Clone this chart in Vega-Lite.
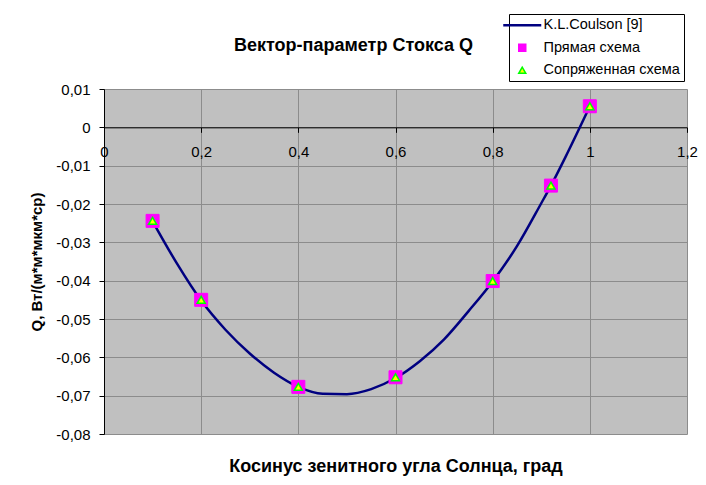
{
  "$schema": "https://vega.github.io/schema/vega-lite/v6.json",
  "width": 583,
  "height": 345,
  "autosize": {"type": "none"},
  "padding": {"left": 104, "top": 89, "right": 19, "bottom": 51},
  "background": "#ffffff",
  "title": {
    "text": "Вектор-параметр Стокса Q",
    "font": "Liberation Sans",
    "fontSize": 18,
    "fontWeight": "bold",
    "color": "#000000",
    "anchor": "middle",
    "frame": "group",
    "dx": -42,
    "offset": -41
  },
  "config": {
    "view": {"fill": "#c0c0c0", "stroke": null},
    "axis": {
      "labelFont": "Liberation Sans",
      "labelFontSize": 15,
      "labelColor": "#000000",
      "titleFont": "Liberation Sans",
      "titleFontSize": 15,
      "titleFontWeight": "bold",
      "titleColor": "#000000",
      "domainColor": "#000000",
      "domainWidth": 1,
      "tickColor": "#000000",
      "tickSize": 5,
      "gridColor": "#8c8c8c",
      "gridWidth": 1,
      "gridOpacity": 1,
      "labelOverlap": false,
      "labelFlush": false
    }
  },
  "datasets": {
    "curve": [
      {"series": "K.L.Coulson [9]", "x": 0.1, "q": -0.0245},
      {"series": "K.L.Coulson [9]", "x": 0.15, "q": -0.0355},
      {"series": "K.L.Coulson [9]", "x": 0.2, "q": -0.0452},
      {"series": "K.L.Coulson [9]", "x": 0.25, "q": -0.0528},
      {"series": "K.L.Coulson [9]", "x": 0.3, "q": -0.0590},
      {"series": "K.L.Coulson [9]", "x": 0.35, "q": -0.0640},
      {"series": "K.L.Coulson [9]", "x": 0.4, "q": -0.0677},
      {"series": "K.L.Coulson [9]", "x": 0.45, "q": -0.0695},
      {"series": "K.L.Coulson [9]", "x": 0.5, "q": -0.0696},
      {"series": "K.L.Coulson [9]", "x": 0.55, "q": -0.0683},
      {"series": "K.L.Coulson [9]", "x": 0.6, "q": -0.0654},
      {"series": "K.L.Coulson [9]", "x": 0.65, "q": -0.0610},
      {"series": "K.L.Coulson [9]", "x": 0.7, "q": -0.0553},
      {"series": "K.L.Coulson [9]", "x": 0.75, "q": -0.0480},
      {"series": "K.L.Coulson [9]", "x": 0.8, "q": -0.0402},
      {"series": "K.L.Coulson [9]", "x": 0.85, "q": -0.0310},
      {"series": "K.L.Coulson [9]", "x": 0.9, "q": -0.0198},
      {"series": "K.L.Coulson [9]", "x": 0.92, "q": -0.0152},
      {"series": "K.L.Coulson [9]", "x": 0.95, "q": -0.0077},
      {"series": "K.L.Coulson [9]", "x": 1.0, "q": 0.0055}
    ],
    "points": [
      {"series": "Прямая схема", "x": 0.1, "q": -0.0244},
      {"series": "Прямая схема", "x": 0.2, "q": -0.0450},
      {"series": "Прямая схема", "x": 0.4, "q": -0.0677},
      {"series": "Прямая схема", "x": 0.6, "q": -0.0652},
      {"series": "Прямая схема", "x": 0.8, "q": -0.0401},
      {"series": "Прямая схема", "x": 0.92, "q": -0.0152},
      {"series": "Прямая схема", "x": 1.0, "q": 0.0055},
      {"series": "Сопряженная схема", "x": 0.1, "q": -0.0244},
      {"series": "Сопряженная схема", "x": 0.2, "q": -0.0450},
      {"series": "Сопряженная схема", "x": 0.4, "q": -0.0677},
      {"series": "Сопряженная схема", "x": 0.6, "q": -0.0652},
      {"series": "Сопряженная схема", "x": 0.8, "q": -0.0401},
      {"series": "Сопряженная схема", "x": 0.92, "q": -0.0152},
      {"series": "Сопряженная схема", "x": 1.0, "q": 0.0055}
    ]
  },
  "encoding": {
    "x": {
      "field": "x",
      "type": "quantitative",
      "scale": {"domain": [0, 1.2], "nice": false, "zero": false},
      "axis": {
        "orient": "bottom",
        "offset": -306.67,
        "values": [0, 0.2, 0.4, 0.6, 0.8, 1.0, 1.2],
        "labelExpr": "replace(format(datum.value, '.1~f'), '.', ',')",
        "grid": true,
        "labelPadding": 12,
        "title": "Косинус зенитного угла Солнца, град",
        "titleFontSize": 18,
        "titleX": 291.5,
        "titleY": 339,
        "titleBaseline": "middle",
        "titleAlign": "center"
      }
    },
    "y": {
      "field": "q",
      "type": "quantitative",
      "scale": {"domain": [-0.08, 0.01], "nice": false, "zero": false},
      "axis": {
        "values": [-0.08, -0.07, -0.06, -0.05, -0.04, -0.03, -0.02, -0.01, 0, 0.01],
        "labelExpr": "replace(replace(format(datum.value, '.2~f'), '−', '-'), '.', ',')",
        "grid": true,
        "labelPadding": 9,
        "title": "Q, Вт/(м*м*мкм*ср)",
        "titleX": -68,
        "titleY": 172.5,
        "titleAngle": -90,
        "titleBaseline": "middle",
        "titleAlign": "center"
      }
    },
    "stroke": {
      "field": "series",
      "type": "nominal",
      "scale": {
        "domain": ["K.L.Coulson [9]", "Прямая схема", "Сопряженная схема"],
        "range": ["#000080", "#ff00ff", "#00ff00"]
      },
      "legend": {
        "orient": "none",
        "legendX": 405,
        "legendY": -75,
        "title": null,
        "strokeColor": "#000000",
        "fillColor": "#ffffff",
        "padding": 4,
        "symbolSize": 1444,
        "symbolStrokeWidth": 2.5,
        "symbolOffset": 2,
        "labelFont": "Liberation Sans",
        "labelFontSize": 14.5,
        "labelColor": "#000000",
        "labelOffset": 14,
        "rowPadding": 7.5,
        "encode": {
          "symbols": {
            "update": {
              "shape": {"signal": "datum.value === 'K.L.Coulson [9]' ? 'stroke' : (datum.value === 'Прямая схема' ? 'square' : 'triangle-up')"},
              "size": {"signal": "datum.value === 'K.L.Coulson [9]' ? 1444 : 49"},
              "fill": {"signal": "datum.value === 'K.L.Coulson [9]' ? 'transparent' : (datum.value === 'Прямая схема' ? '#ff00ff' : '#ffff00')"},
              "strokeWidth": {"signal": "datum.value === 'K.L.Coulson [9]' ? 2.5 : 1.5"},
              "opacity": {"value": 1}
            }
          }
        }
      }
    }
  },
  "layer": [
    {
      "data": {"name": "curve"},
      "mark": {"type": "line", "strokeWidth": 2.5, "interpolate": "monotone"}
    },
    {
      "data": {"name": "points"},
      "transform": [{"filter": "datum.series === 'Прямая схема'"}],
      "mark": {"type": "point", "shape": "square", "filled": true, "fill": "#ff00ff", "size": 169, "strokeWidth": 1, "opacity": 1}
    },
    {
      "data": {"name": "points"},
      "transform": [{"filter": "datum.series === 'Сопряженная схема'"}],
      "mark": {"type": "point", "shape": "triangle-up", "filled": true, "fill": "#ffff00", "size": 64, "strokeWidth": 1.5, "opacity": 1}
    }
  ]
}
